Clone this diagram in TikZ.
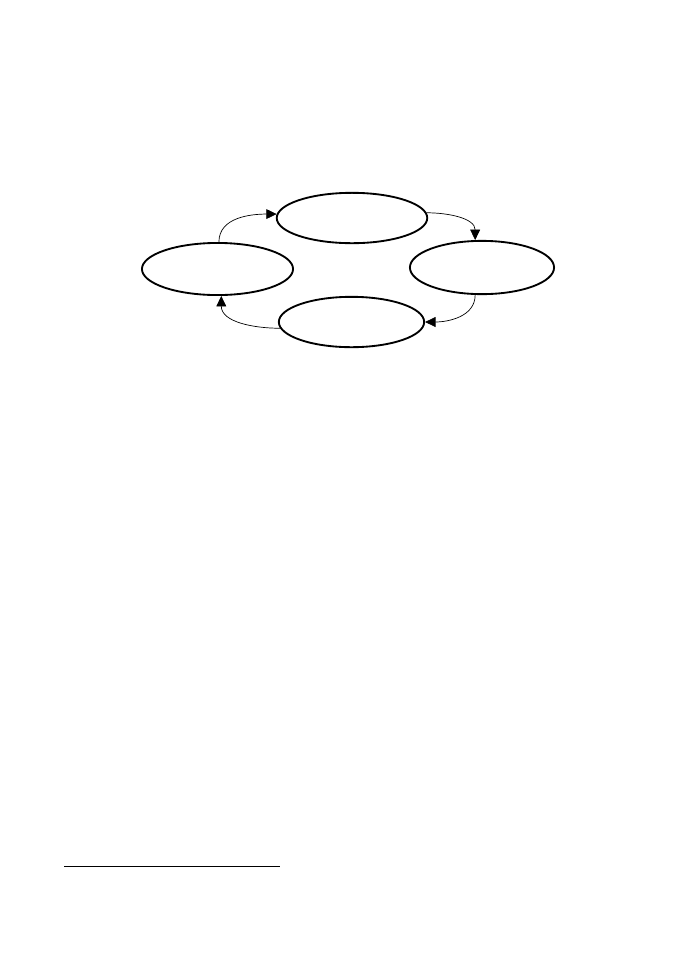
\documentclass[tikz,border=0pt]{standalone}
\usetikzlibrary{shapes.geometric}
\usetikzlibrary{arrows.meta}

\begin{document}
\begin{tikzpicture}
[x=0.8636pt,y=0.8636pt,
 every node/.style={ellipse,draw,line width=1.6pt,inner sep=0pt},%
 lineDecorate/.style={-{Triangle[length=9pt,width=8.5pt]},line width=0.6pt}]
\useasboundingbox (0,0) rectangle (689,-974);
\node[minimum width=130pt,minimum height=43.5pt](topState) at (352,-218){};
\node[minimum width=130.5pt,minimum height=45pt](leftState) at (217.5,-269){};
\node[minimum width=124.5pt,minimum height=46pt](rightState) at (482,-267.5){};
\node[minimum width=125.5pt,minimum height=43.5pt](bottomState) at (351.5,-322){};
\path
\foreach \startNode/\endNode/\outAngle/\inAngle in {
  leftState.87/topState.177/90/180, topState.4/rightState.104/0/90,
  rightState.256/bottomState.0/-90/0, bottomState.185/leftState.278/180/-90}
{
  (\startNode) edge[lineDecorate,out=\outAngle,in=\inAngle] (\endNode)
};
\draw[line width=0.7pt] (64,-866) -- (280,-866);
\end{tikzpicture}
\end{document}
